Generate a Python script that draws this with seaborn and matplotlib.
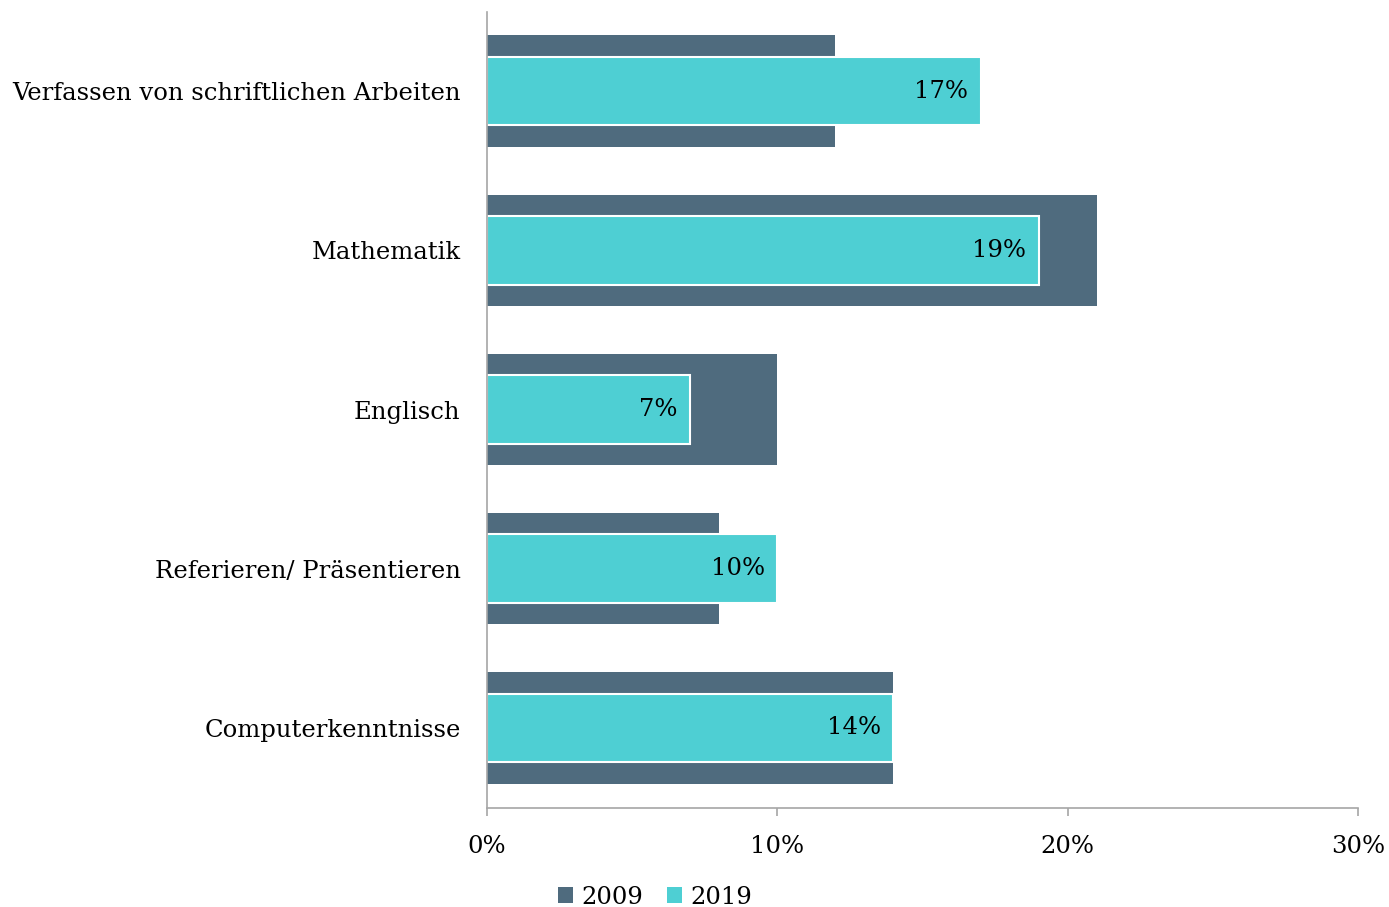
import matplotlib
matplotlib.use("Agg")
import matplotlib.pyplot as plt
from matplotlib.patches import Patch
import seaborn as sns
import pandas as pd

categories = ["Verfassen von schriftlichen Arbeiten", "Mathematik", "Englisch",
              "Referieren/ Präsentieren", "Computerkenntnisse"]
values_2009 = [12, 21, 10, 8, 14]
values_2019 = [17, 19, 7, 10, 14]
xticks = [0, 10, 20, 30]
xtick_labels = ["0%", "10%", "20%", "30%"]
series_names = ["2009", "2019"]

c2009 = "#4F6B7E"
c2019 = "#4ECFD3"
FS = 17.5

sns.set_theme(style="white")
plt.rcParams["font.family"] = ["DejaVu Serif"]
plt.rcParams["text.color"] = "black"
plt.rcParams["xtick.color"] = "#A6A6A6"
plt.rcParams["xtick.labelcolor"] = "black"
plt.rcParams["ytick.labelcolor"] = "black"

df = pd.DataFrame({"cat": categories, "v2009": values_2009, "v2019": values_2019})

fig = plt.figure(figsize=(13.89, 9.07), dpi=100)
ax = fig.add_axes([487/1389, 1 - 807.5/907, (1358-487)/1389, (807.5-11.5)/907])

sns.barplot(data=df, x="v2009", y="cat", orient="h", color=c2009, width=0.70,
            saturation=1, ax=ax, linewidth=0)
sns.barplot(data=df, x="v2019", y="cat", orient="h", color=c2019, width=0.43,
            saturation=1, ax=ax, edgecolor="white", linewidth=1.5)

cont = ax.containers[1]
texts = ax.bar_label(cont, labels=[f"{v}%" for v in values_2019], padding=-9,
                     fontsize=FS, color="black")
for t in texts:
    t.set_ha("right")

ax.set_xlim(0, 30)
ax.set_ylim(4.5, -0.5)
ax.set_xticks(xticks)
ax.set_xticklabels(xtick_labels, fontsize=FS)
ax.set_xlabel("")
ax.set_ylabel("")
ax.tick_params(axis="y", length=0, pad=19, labelsize=FS, labelcolor="black")
ax.tick_params(axis="x", length=6, width=1.2, color="#A6A6A6", direction="out",
               bottom=True, pad=14, labelcolor="black")
for s in ["top", "right"]:
    ax.spines[s].set_visible(False)
for s in ["left", "bottom"]:
    ax.spines[s].set_color("#A6A6A6")
    ax.spines[s].set_linewidth(1.2)

handles = [Patch(facecolor=c2009, edgecolor="none"), Patch(facecolor=c2019, edgecolor="none")]
fig.legend(handles, series_names, loc="center", bbox_to_anchor=(655/1389, 1 - 897/907),
           ncol=2, frameon=False, fontsize=FS, handlelength=0.6, handleheight=0.6,
           handletextpad=0.35, columnspacing=1.0)

fig.savefig("out.png", dpi=100)
